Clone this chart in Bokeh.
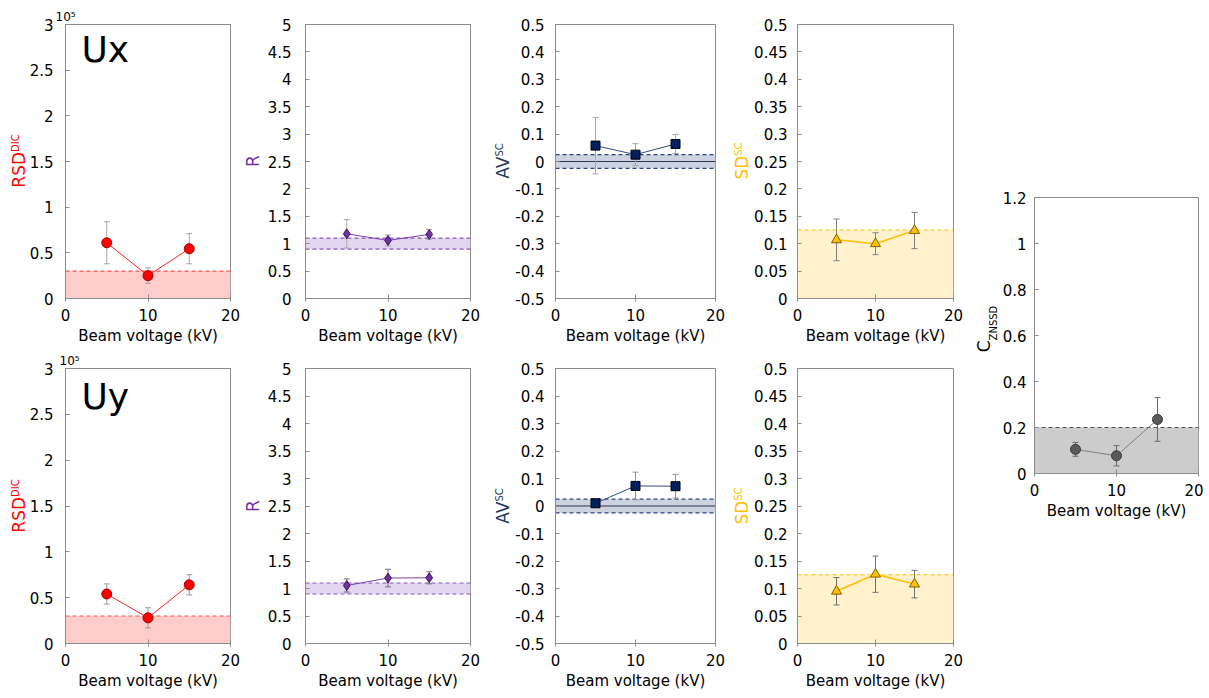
import numpy as np
from bokeh.plotting import figure
from bokeh.layouts import row, column
from bokeh.models import (Range1d, FixedTicker, CustomJSTickFormatter,
                          BoxAnnotation, Span, Label, Title, Div)
from bokeh.embed import file_html
from bokeh.resources import INLINE

# ---------------- data ----------------
voltage = [5, 10, 15]
x_ticks = [0, 10, 20]

# Ux row (RSD in units of 1e5)
rsd_ux = [0.61, 0.25, 0.545]
rsd_ux_err = [0.23, 0.085, 0.165]
r_ux = [1.18, 1.06, 1.17]
r_ux_err = [0.26, 0.10, 0.09]
av_ux = [0.058, 0.025, 0.064]
av_ux_err = [0.103, 0.04, 0.035]
sd_ux = [0.107, 0.100, 0.124]
sd_ux_err = [0.038, 0.020, 0.033]

# Uy row
rsd_uy = [0.54, 0.28, 0.64]
rsd_uy_err = [0.11, 0.11, 0.11]
r_uy = [1.055, 1.19, 1.195]
r_uy_err = [0.12, 0.16, 0.11]
av_uy = [0.010, 0.073, 0.072]
av_uy_err = [0.004, 0.05, 0.043]
sd_uy = [0.095, 0.126, 0.108]
sd_uy_err = [0.025, 0.033, 0.025]

# ZNSSD criterion
c_znssd = [0.105, 0.077, 0.235]
c_znssd_err = [0.03, 0.044, 0.095]

# acceptance bands
rsd_band = [0.0, 0.3]
r_band = [0.9, 1.1]
av_band = [-0.025, 0.025]
sd_band = [0.0, 0.125]
c_band = [0.0, 0.2]

# y ticks
rsd_ticks = [0, 0.5, 1, 1.5, 2, 2.5, 3]
r_ticks = [0, 0.5, 1, 1.5, 2, 2.5, 3, 3.5, 4, 4.5, 5]
av_ticks = [-0.5, -0.4, -0.3, -0.2, -0.1, 0, 0.1, 0.2, 0.3, 0.4, 0.5]
sd_ticks = [0, 0.05, 0.1, 0.15, 0.2, 0.25, 0.3, 0.35, 0.4, 0.45, 0.5]
c_ticks = [0, 0.2, 0.4, 0.6, 0.8, 1, 1.2]

FONT = "DejaVu Sans"
GRAY = "#8c8c8c"


def make_fig(fw, fh, bl, br, bt, bb, yticks, standoff=12):
    p = figure(frame_width=fw, frame_height=fh, min_border_left=bl,
               min_border_right=br, min_border_top=bt, min_border_bottom=bb,
               x_range=Range1d(x_ticks[0], x_ticks[-1]),
               y_range=Range1d(yticks[0], yticks[-1]),
               output_backend="svg", toolbar_location=None)
    p.background_fill_color = "white"
    p.border_fill_color = "white"
    p.outline_line_color = GRAY
    p.outline_line_width = 1
    p.grid.visible = False
    p.xaxis.ticker = FixedTicker(ticks=x_ticks)
    p.yaxis.ticker = FixedTicker(ticks=yticks)
    fmt = "return String(parseFloat(tick.toFixed(4)));"
    for ax in (p.xaxis[0], p.yaxis[0]):
        ax.axis_line_color = GRAY
        ax.major_tick_line_color = GRAY
        ax.minor_tick_line_color = None
        ax.major_label_text_font = FONT
        ax.major_label_text_font_size = "15px"
        ax.major_label_text_color = "black"
        ax.formatter = CustomJSTickFormatter(code=fmt)
    p.xaxis.major_tick_in = 4
    p.xaxis.major_tick_out = 3
    p.xaxis.major_label_standoff = 7
    p.xaxis.axis_label = "Beam voltage (kV)"
    p.xaxis.axis_label_text_font = FONT
    p.xaxis.axis_label_text_font_size = "15px"
    p.xaxis.axis_label_text_font_style = "normal"
    p.xaxis.axis_label_text_color = "black"
    p.xaxis.axis_label_standoff = 3
    p.yaxis.major_tick_in = 4
    p.yaxis.major_tick_out = 0
    p.yaxis.major_label_standoff = standoff
    return p


def label_div(w, h, cx, cy, main, color, sup=None, sub=None):
    """Rotated y-axis title (reads bottom-to-top) centred at (cx, cy)."""
    inner = main
    if sup:
        inner += ('<span style="font-size:10px;line-height:0;'
                  f'vertical-align:6px">{sup}</span>')
    if sub:
        inner += ('<span style="font-size:10px;line-height:0;'
                  f'vertical-align:-7px">{sub}</span>')
    html = (f'<div style="position:relative;width:{w}px;height:{h}px;">'
            f'<div style="position:absolute;left:{cx}px;top:{cy}px;'
            'transform:translate(-50%,-50%) rotate(-90deg);white-space:nowrap;'
            f"font-family:'{FONT}';font-size:17px;line-height:17px;"
            f'color:{color}">{inner}</div></div>')
    return Div(text=html, width=w, height=h, margin=0)


def band(p, b, fill, dash_col, lower_dash=False):
    p.add_layout(BoxAnnotation(bottom=b[0], top=b[1], fill_color=fill,
                               fill_alpha=1.0, line_color=None, level="underlay"))
    p.add_layout(Span(location=b[1], dimension="width", line_color=dash_col,
                      line_width=1.2, line_dash="4 3", level="underlay"))
    if lower_dash:
        p.add_layout(Span(location=b[0], dimension="width", line_color=dash_col,
                          line_width=1.2, line_dash="4 3", level="underlay"))


def series(p, vals, errs, ecol, lcol, lw, marker, size, fcol, ocol):
    v = np.array(vals)
    e = np.array(errs)
    up, lo = v + e, v - e
    p.segment(x0=voltage, y0=lo, x1=voltage, y1=up, line_color=ecol, line_width=1)
    p.scatter(voltage, up, marker="dash", size=6, line_color=ecol, line_width=1)
    p.scatter(voltage, lo, marker="dash", size=6, line_color=ecol, line_width=1)
    p.line(voltage, vals, line_color=lcol, line_width=lw)
    p.scatter(voltage, vals, marker=marker, size=size, fill_color=fcol,
              line_color=ocol, line_width=1)


def build_row(fh, bt, bb, rsd, rsd_e, r, r_e, av, av_e, sd, sd_e, tag, tag_drop,
              exp_off, ecols):
    H = bt + fh + bb
    cy = bt + fh / 2

    l1 = label_div(26, H, 19.1, cy, "RSD", "#ff0000", sup="DIC")
    f1 = make_fig(165, fh, 38, 11, bt, bb, rsd_ticks, standoff=12)
    band(f1, rsd_band, "#ffcccc", "#ff4d4d")
    series(f1, rsd, rsd_e, ecols[0], "#ff2020", 1, "circle", 10, "#ff0000", "#a00000")
    f1.add_layout(Label(x=16, y=fh - tag_drop + 16, x_units="screen", y_units="screen",
                        text=tag, text_font=FONT, text_font_size="36px",
                        text_color="black", text_baseline="alphabetic"))
    f1.add_layout(Title(text="10\u2075", align="left", offset=exp_off,
                        text_font=FONT, text_font_size="12px",
                        text_font_style="normal", text_color="black",
                        standoff=1), "above")

    l2 = label_div(22, H, 12.1, cy, "R", "#7030a0")
    f2 = make_fig(165, fh, 42, 16, bt, bb, r_ticks, standoff=14)
    band(f2, r_band, "#e2d5ef", "#8a55c4", lower_dash=True)
    series(f2, r, r_e, ecols[1], "#7a3fb0", 1, "diamond", 10, "#7030a0", "#3f1a5e")

    l3 = label_div(26, H, 17.1, cy, "AV", "#203864", sup="SC")
    f3 = make_fig(160, fh, 41, 16, bt, bb, av_ticks, standoff=11)
    band(f3, av_band, "#ccd2df", "#2c4478", lower_dash=True)
    f3.add_layout(Span(location=0, dimension="width", line_color="#2a3550",
                       line_width=1, level="underlay"))
    series(f3, av, av_e, ecols[2], "#2f4e8c", 1, "square", 9, "#002060", "#000000")

    l4 = label_div(20, H, 11.1, cy, "SD", "#ffc000", sup="SC")
    f4 = make_fig(156, fh, 45, 16, bt, bb, sd_ticks, standoff=10)
    band(f4, sd_band, "#fff2cc", "#ffc000")
    series(f4, sd, sd_e, ecols[3], "#ffc000", 1.5, "triangle", 10, "#ffc000", "#7f6000")
    return row(l1, f1, l2, f2, l3, f3, l4, f4)


row1 = build_row(274, 24, 50, rsd_ux, rsd_ux_err, r_ux, r_ux_err, av_ux, av_ux_err,
                 sd_ux, sd_ux_err, "Ux", 41, -10,
                 ["#a6a6a6", "#a6a6a6", "#a6a6a6", "#7f7f7f"])
row2 = build_row(275, 20, 47, rsd_uy, rsd_uy_err, r_uy, r_uy_err, av_uy, av_uy_err,
                 sd_uy, sd_uy_err, "Uy", 44, -6,
                 ["#9a9a9a", "#707070", "#909090", "#707070"])

H5 = 197 + 276 + 50
l5 = label_div(30, H5, 16.1, 329, "C", "black", sub="ZNSSD")
f5 = make_fig(164, 276, 33, 5, 197, 50, c_ticks, standoff=8)
band(f5, c_band, "#cccccc", "#505050")
series(f5, c_znssd, c_znssd_err, "#6a6a6a", "#808080", 1, "circle", 10, "#5a5a5a", "#3a3a3a")

layout = row(column(row1, row2), row(l5, f5))

open("out.html", "w").write(file_html(layout, INLINE))
